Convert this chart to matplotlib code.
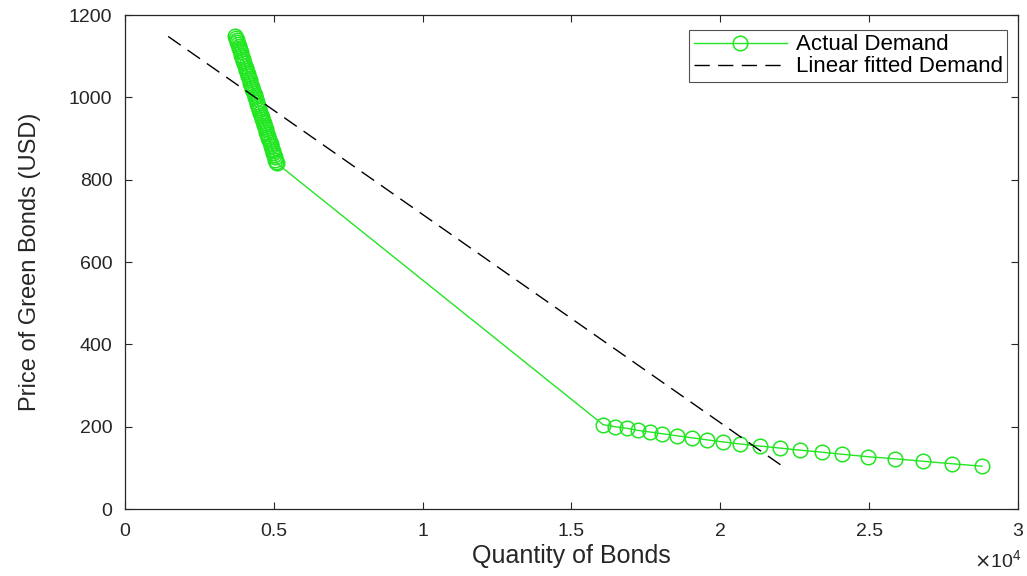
import numpy as np
import matplotlib
matplotlib.use("Agg")
import matplotlib.pyplot as plt
from matplotlib.ticker import FuncFormatter

plt.rcParams['font.family'] = ['Liberation Sans', 'DejaVu Sans']

# actual demand (quantity, price)
# steep part is a dense run of markers, then the flat tail
demand_q = [3700, 3723, 3747, 3770, 3793, 3817, 3840, 3863, 3887, 3910,
            3933, 3957, 3980, 4003, 4027, 4050, 4073, 4097, 4120, 4143,
            4167, 4190, 4213, 4237, 4260, 4283, 4307, 4330, 4353, 4377,
            4400, 4423, 4447, 4470, 4493, 4517, 4540, 4563, 4587, 4610,
            4633, 4657, 4680, 4703, 4727, 4750, 4773, 4797, 4820, 4843,
            4867, 4890, 4913, 4937, 4960, 4983, 5007, 5030, 5053, 5077, 5100,
            16060, 16460, 16870, 17230, 17640, 18040, 18540, 19050, 19550, 20090,
            20660, 21330, 22000, 22680, 23420, 24090, 24960, 25870, 26810, 27780, 28790]
demand_p = [1150, 1145, 1140, 1134, 1129, 1124, 1119, 1114, 1109, 1103,
            1098, 1093, 1088, 1083, 1077, 1072, 1067, 1062, 1057, 1052,
            1046, 1041, 1036, 1031, 1026, 1020, 1015, 1010, 1005, 1000,
            995, 989, 984, 979, 974, 969, 963, 958, 953, 948,
            943, 938, 932, 927, 922, 917, 912, 906, 901, 896,
            891, 886, 881, 875, 870, 865, 860, 855, 849, 844, 840,
            205, 200, 196, 191, 187, 183, 178, 173, 168, 163,
            158, 153, 148, 143, 138, 133, 127, 122, 116, 110, 104]

# linear fit end points
fit_q = [1450, 22070]
fit_p = [1148, 105]

green = '#22e622'
ink = '#262626'

fig = plt.figure(figsize=(10.27, 5.76), dpi=100)
ax = fig.add_axes([0.1217, 0.1163, 0.8695, 0.8576])

ax.plot(demand_q, demand_p, color=green, lw=1.0, marker='o', markersize=10.5,
        fillstyle='none', markeredgewidth=1.1, label='Actual Demand')
ax.plot(fit_q, fit_p, color='black', lw=1.0, dashes=(11, 6),
        label='Linear fitted Demand')

ax.set_xlim(0, 30000)
ax.set_ylim(0, 1200)
ax.set_xticks(np.arange(0, 30001, 5000))
ax.set_yticks(np.arange(0, 1201, 200))
ax.xaxis.set_major_formatter(FuncFormatter(lambda v, p: f"{v/1e4:g}"))
ax.tick_params(direction='in', top=True, right=True, labelsize=14,
               colors=ink, length=5, width=0.8)
ax.tick_params(axis='x', pad=10)
ax.tick_params(axis='y', pad=9)
for s in ax.spines.values():
    s.set_color(ink)
    s.set_linewidth(0.9)

ax.set_xlabel('Quantity of Bonds', fontsize=18, color=ink, labelpad=3)
ax.set_ylabel('Price of Green Bonds (USD)', fontsize=17, color=ink, labelpad=20)
fig.text(0.994, 0.008, r'$\times\mathregular{10^4}$', ha='right', va='bottom',
         fontsize=14, color=ink)

leg = ax.legend(loc='upper right', fontsize=16, frameon=True, fancybox=False,
                borderpad=0.2, handlelength=4.2, handletextpad=0.4,
                labelspacing=0.05, borderaxespad=0,
                bbox_to_anchor=(0.988, 0.97))
leg.get_frame().set_edgecolor(ink)
leg.get_frame().set_linewidth(0.8)

fig.savefig('out.png', dpi=100)
